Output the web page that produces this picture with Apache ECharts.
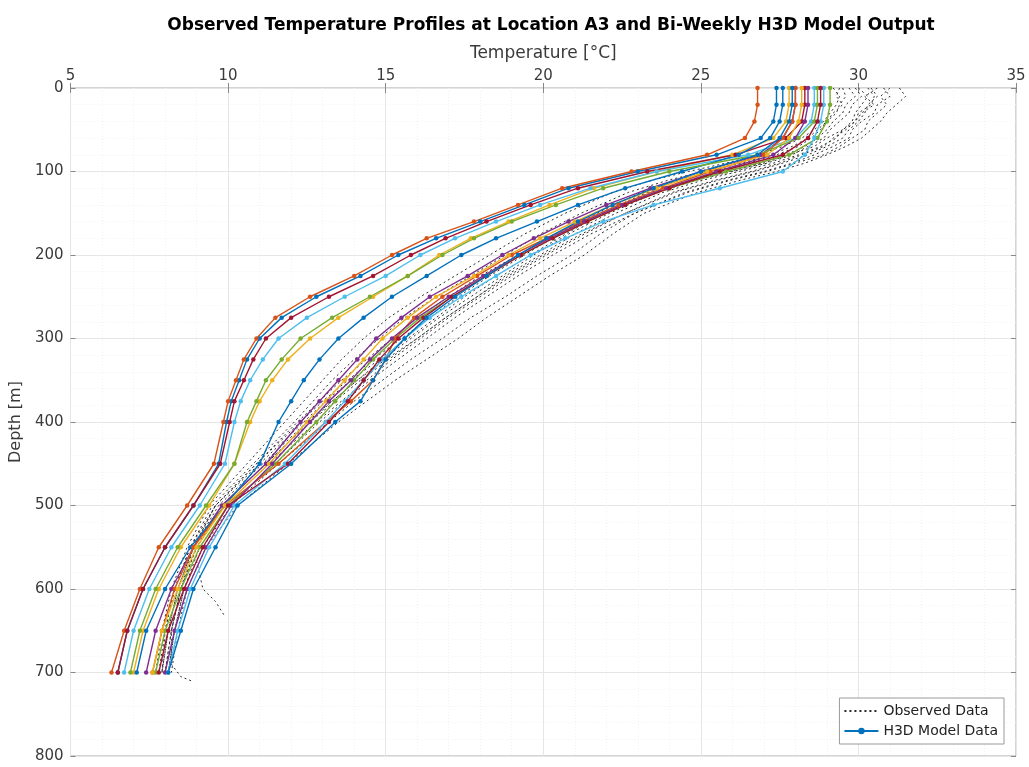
<!DOCTYPE html>
<html>
<head>
<meta charset="utf-8">
<script src="https://cdn.jsdelivr.net/npm/echarts@6/dist/echarts.min.js"></script>
<style>
html,body{margin:0;padding:0;background:#fff;}
#chart{width:1029px;height:767px;}
</style>
</head>
<body>
<div id="chart"></div>
<script>
// ---------- Data ----------
const titleText = 'Observed Temperature Profiles at Location A3 and Bi-Weekly H3D Model Output';
const xName = 'Temperature [°C]';
const yName = 'Depth [m]';
const legendNames = ['Observed Data', 'H3D Model Data'];

// Model depth levels [m]
const depthModel = [0,20,40,60,80,100,120,140,160,180,200,225,250,275,300,325,350,375,400,450,500,550,600,650,700];

// Model temperatures [°C]
const model1  = [27.4,27.4,27.3,26.9,25.5,23.0,20.8,19.4,18.0,16.6,15.4,14.2,12.8,11.7,11.0,10.6,10.35,10.1,9.95,9.7,8.9,8.0,7.3,6.8,6.5];
const model2  = [26.8,26.8,26.7,26.4,25.2,22.8,20.6,19.2,17.8,16.3,15.2,14.0,12.6,11.5,10.9,10.5,10.25,10.0,9.85,9.55,8.7,7.8,7.2,6.7,6.3];
const model3  = [27.8,27.8,27.7,27.3,26.0,23.6,21.6,20.2,18.9,17.7,16.7,15.7,14.6,13.5,12.6,11.9,11.4,11.0,10.7,10.2,9.4,8.5,7.8,7.3,7.0];
const model4  = [28.0,28.0,27.9,27.6,26.9,25.0,23.4,22.0,20.8,19.7,18.7,17.6,16.4,15.5,14.7,14.1,13.5,12.9,12.3,11.2,9.8,8.9,8.2,7.7,7.4];
const model5  = [29.1,29.1,29.0,28.7,27.8,25.8,24.0,22.6,21.4,20.3,19.3,18.2,17.1,16.1,15.3,14.6,14.0,13.4,12.8,11.5,10.0,9.1,8.5,8.0,7.7];
const model6  = [28.6,28.6,28.5,28.0,26.5,23.6,21.5,19.9,18.5,17.2,16.1,15.0,13.7,12.5,11.6,11.1,10.7,10.4,10.2,9.9,9.1,8.2,7.5,7.0,6.7];
const model7  = [28.3,28.3,28.2,27.7,26.1,23.3,21.1,19.6,18.2,16.9,15.8,14.6,13.2,12.0,11.2,10.8,10.5,10.2,10.05,9.75,8.9,8.0,7.3,6.8,6.5];
const model8  = [27.6,27.6,27.5,27.2,26.2,24.4,22.6,21.1,19.8,18.5,17.4,16.3,15.2,14.3,13.5,12.9,12.4,12.0,11.6,11.0,9.9,8.8,8.0,7.4,7.1];
const model9  = [28.0,28.0,27.9,27.6,27.0,25.3,23.8,22.4,21.2,20.1,19.0,17.9,16.8,15.9,15.3,15.0,14.6,13.9,13.1,11.6,9.9,8.9,8.3,7.9,7.6];
const model10 = [28.2,28.2,28.1,27.8,27.1,25.2,23.6,22.2,21.0,19.9,18.9,17.8,16.6,15.7,14.9,14.3,13.7,13.1,12.5,11.3,9.9,9.0,8.4,7.9,7.6];
const model11 = [28.4,28.4,28.3,28.0,27.3,25.5,23.9,22.5,21.3,20.2,19.2,18.1,17.0,16.0,15.2,14.5,13.9,13.2,12.6,11.4,10.1,9.3,8.7,8.3,8.0];
const model12 = [28.7,28.7,28.6,28.1,26.8,24.0,21.9,20.4,19.0,17.8,16.8,15.7,14.5,13.3,12.3,11.7,11.2,10.9,10.6,10.2,9.3,8.4,7.7,7.2,6.9];
const model13 = [28.9,28.9,28.8,28.6,28.3,27.6,25.6,23.5,21.9,20.7,19.6,18.5,17.4,16.4,15.6,14.9,14.3,13.7,13.1,11.8,10.2,9.4,8.8,8.4,8.1];
const model14 = [28.8,28.8,28.7,28.4,27.6,25.6,24.0,22.6,21.4,20.3,19.3,18.2,17.1,16.2,15.4,14.8,14.3,13.8,13.2,11.9,10.0,9.2,8.6,8.1,7.8];
const model15 = [27.9,27.9,27.8,27.5,26.8,25.0,23.5,22.2,21.1,20.1,19.2,18.2,17.2,16.3,15.6,15.0,14.6,14.2,13.4,12.0,10.3,9.6,8.9,8.5,8.1];

// Observed depth levels [m]
const depthObsA = [0,10,20,30,40,50,60,70,80,90,100,110,125,150,175,200,225,250,275,300,325,350,375,400,450,500,550,600,650,700];
const depthObsB = [0,10,20,30,40,50,60,70,80,90,100,110,125,150,175,200,225,250,275,300,325,350,375,400,450,500,550,600,615,633];
const depthObsC = [0,10,20,30,40,50,60,70,80,90,100,110,125,150,175,200,225,250,275,300,325,350,375,400,450,500,550,600,650,690,705,711];

// Observed temperatures [°C]
const obs1  = [31.3,31.5,31.2,30.9,30.7,30.4,30.1,29.6,29.0,28.3,27.4,26.3,24.9,23.2,22.2,21.3,20.2,19.2,18.2,17.3,16.3,15.3,14.4,13.5,11.9,10.3,9.3,8.7,8.4,8.2];
const obs2  = [30.8,31.0,30.6,30.5,30.1,29.8,29.7,29.2,28.6,27.9,27.0,25.9,24.5,22.9,21.8,20.9,19.8,18.8,17.7,16.8,15.8,14.9,14.0,13.2,11.6,10.1,9.2,8.6,8.3,8.1];
const obs3  = [30.3,30.5,30.4,30.0,29.9,29.6,29.2,28.9,28.2,27.5,26.6,25.5,24.1,22.6,21.3,20.1,19.0,18.0,17.0,16.1,15.2,14.4,13.6,12.8,11.3,9.9,9.0,8.5,8.2,8.0];
const obs4  = [29.9,30.1,29.8,29.7,29.4,29.1,28.9,28.4,27.9,27.1,26.0,24.9,23.6,22.1,20.8,19.7,18.7,17.7,16.7,15.8,14.9,14.1,13.3,12.5,11.1,9.7,8.9,8.4,8.1,7.9];
const obs5  = [29.5,29.6,29.4,29.3,29.0,28.8,28.5,28.1,27.4,26.5,25.4,24.3,23.1,21.7,20.5,19.4,18.3,17.3,16.4,15.5,14.6,13.8,13.0,12.3,10.9,9.6,8.8,8.3,8.0,7.9];
const obs6  = [30.6,30.2,30.5,30.1,29.9,29.5,29.3,28.8,28.1,27.3,26.2,25.1,23.8,22.3,21.0,19.9,18.8,17.9,16.9,16.0,15.0,14.1,13.3,12.6,11.2,9.8,8.9,9.2,9.6,9.9];
const obs7  = [29.7,29.9,29.6,29.5,29.2,29.0,28.7,28.3,27.7,26.9,25.8,24.7,23.4,21.9,20.7,19.6,18.5,17.5,16.6,15.7,14.8,13.9,13.1,12.4,11.0,9.6,8.9,8.5,8.2,8.2,8.5,8.9];
const obs8  = [29.2,29.4,29.3,29.1,28.9,28.6,28.2,27.6,26.8,25.8,24.6,23.5,22.2,20.7,19.4,18.3,17.2,16.1,15.1,14.3,13.6,13.0,12.4,11.8,10.6,9.4,8.7,8.2,7.9,7.7];
const obs9  = [29.4,29.3,29.5,29.2,29.0,28.7,28.4,27.9,27.2,26.3,25.1,24.0,22.7,21.2,19.9,18.8,17.7,16.6,15.6,14.8,14.0,13.3,12.7,12.1,10.8,9.5,8.8,8.3,8.0,7.8];
const obs10 = [30.0,30.3,30.1,29.9,29.8,29.5,29.0,28.6,27.8,27.0,25.9,24.8,23.3,21.8,20.4,19.2,18.0,17.0,16.0,15.2,14.4,13.6,12.9,12.2,10.9,9.6,8.9,8.4,8.1,7.9];
const obs11 = [31.0,30.7,30.9,30.6,30.3,30.2,29.8,29.4,28.9,28.0,27.1,26.0,24.6,22.9,21.5,20.3,19.2,18.2,17.2,16.3,15.4,14.5,13.7,12.9,11.5,10.0,9.1,8.6,8.3,8.1];
const obs12 = [30.4,30.6,30.3,30.2,30.0,29.7,29.5,29.0,28.4,27.6,26.7,25.6,24.2,22.6,21.2,20.0,18.9,17.9,16.9,16.0,15.1,14.2,13.4,12.6,11.2,9.8,9.0,8.5,8.2,8.0];

// ---------- Build ----------
const modelProfiles = [model1,model2,model3,model4,model5,model6,model7,model8,model9,model10,model11,model12,model13,model14,model15];
const obsProfiles = [
  [obs1, depthObsA],[obs2, depthObsA],[obs3, depthObsA],[obs4, depthObsA],[obs5, depthObsA],
  [obs6, depthObsB],[obs7, depthObsC],[obs8, depthObsA],[obs9, depthObsA],[obs10, depthObsA],
  [obs11, depthObsA],[obs12, depthObsA]
];
const modelColors = ['#0072BD','#D95319','#EDB120','#7E2F8E','#77AC30','#4DBEEE','#A2142F'];
const FONT = 'DejaVu Sans';

const series = [];
obsProfiles.forEach(([t, d]) => {
  series.push({
    type: 'line', name: legendNames[0],
    data: d.map((dep, i) => [t[i], dep]),
    showSymbol: false, symbol: 'none',
    lineStyle: { color: '#2a2a2a', width: 1, type: [2, 3] },
    itemStyle: { color: '#2a2a2a' },
    z: 2
  });
});
modelProfiles.forEach((t, k) => {
  const c = modelColors[k % modelColors.length];
  series.push({
    type: 'line', name: legendNames[1],
    data: depthModel.map((dep, i) => [t[i], dep]),
    symbol: 'circle', symbolSize: 4.5, showSymbol: true,
    lineStyle: { color: c, width: 1.4 },
    itemStyle: { color: c },
    z: 3
  });
});

const chart = echarts.init(document.getElementById('chart'), null, { renderer: 'canvas' });
chart.setOption({
  animation: false,
  backgroundColor: '#ffffff',
  textStyle: { fontFamily: FONT },
  title: {
    text: titleText,
    left: 546, top: 12, textAlign: 'center',
    textStyle: { fontFamily: FONT, fontSize: 17, fontWeight: 'bold', color: '#000' }
  },
  legend: {
    data: [
      { name: legendNames[0], itemStyle: { opacity: 0 } },
      { name: legendNames[1] }
    ],
    orient: 'vertical',
    right: 25, top: 698,
    padding: [6, 6, 6, 4],
    itemGap: 6,
    itemWidth: 34, itemHeight: 8,
    backgroundColor: '#ffffff',
    borderColor: '#9a9a9a', borderWidth: 1, borderRadius: 0,
    textStyle: { fontFamily: FONT, fontSize: 14, color: '#222' }
  },
  grid: {
    left: 70, right: 13, top: 88, bottom: 11,
    show: true, borderColor: '#a8a8a8', borderWidth: 1, backgroundColor: 'transparent'
  },
  xAxis: [{
    type: 'value', position: 'top', min: 5, max: 35, interval: 5,
    name: xName, nameLocation: 'middle', nameGap: 26,
    nameTextStyle: { fontFamily: FONT, fontSize: 17, color: '#3a3a3a' },
    axisLine: { show: false },
    axisTick: { show: true, inside: true, length: 5, lineStyle: { color: '#888' } },
    axisLabel: { fontFamily: FONT, fontSize: 15, color: '#3a3a3a', margin: 4 },
    splitLine: { show: true, lineStyle: { color: '#e6e6e6', width: 1 } },
    minorTick: { show: false, splitNumber: 5 },
    minorSplitLine: { show: true, lineStyle: { color: '#f2f2f2', width: 1, type: [1, 2] } }
  }, {
    type: 'value', position: 'bottom', min: 5, max: 35, interval: 5,
    axisLine: { show: false },
    axisTick: { show: true, inside: true, length: 5, lineStyle: { color: '#888' } },
    axisLabel: { show: false },
    splitLine: { show: false }
  }],
  yAxis: [{
    type: 'value', inverse: true, min: 0, max: 800, interval: 100,
    name: yName, nameLocation: 'middle', nameGap: 44, nameRotate: 90,
    nameTextStyle: { fontFamily: FONT, fontSize: 16, color: '#3a3a3a' },
    axisLine: { show: false },
    axisTick: { show: true, inside: true, length: 5, lineStyle: { color: '#888' } },
    axisLabel: { fontFamily: FONT, fontSize: 15, color: '#3a3a3a', margin: 7 },
    splitLine: { show: true, lineStyle: { color: '#e6e6e6', width: 1 } },
    minorTick: { show: false, splitNumber: 5 },
    minorSplitLine: { show: true, lineStyle: { color: '#f2f2f2', width: 1, type: [1, 2] } }
  }, {
    type: 'value', inverse: true, min: 0, max: 800, interval: 100, position: 'right',
    axisLine: { show: false },
    axisTick: { show: true, inside: true, length: 5, lineStyle: { color: '#888' } },
    axisLabel: { show: false },
    splitLine: { show: false }
  }],
  series: series
});
</script>
</body>
</html>
